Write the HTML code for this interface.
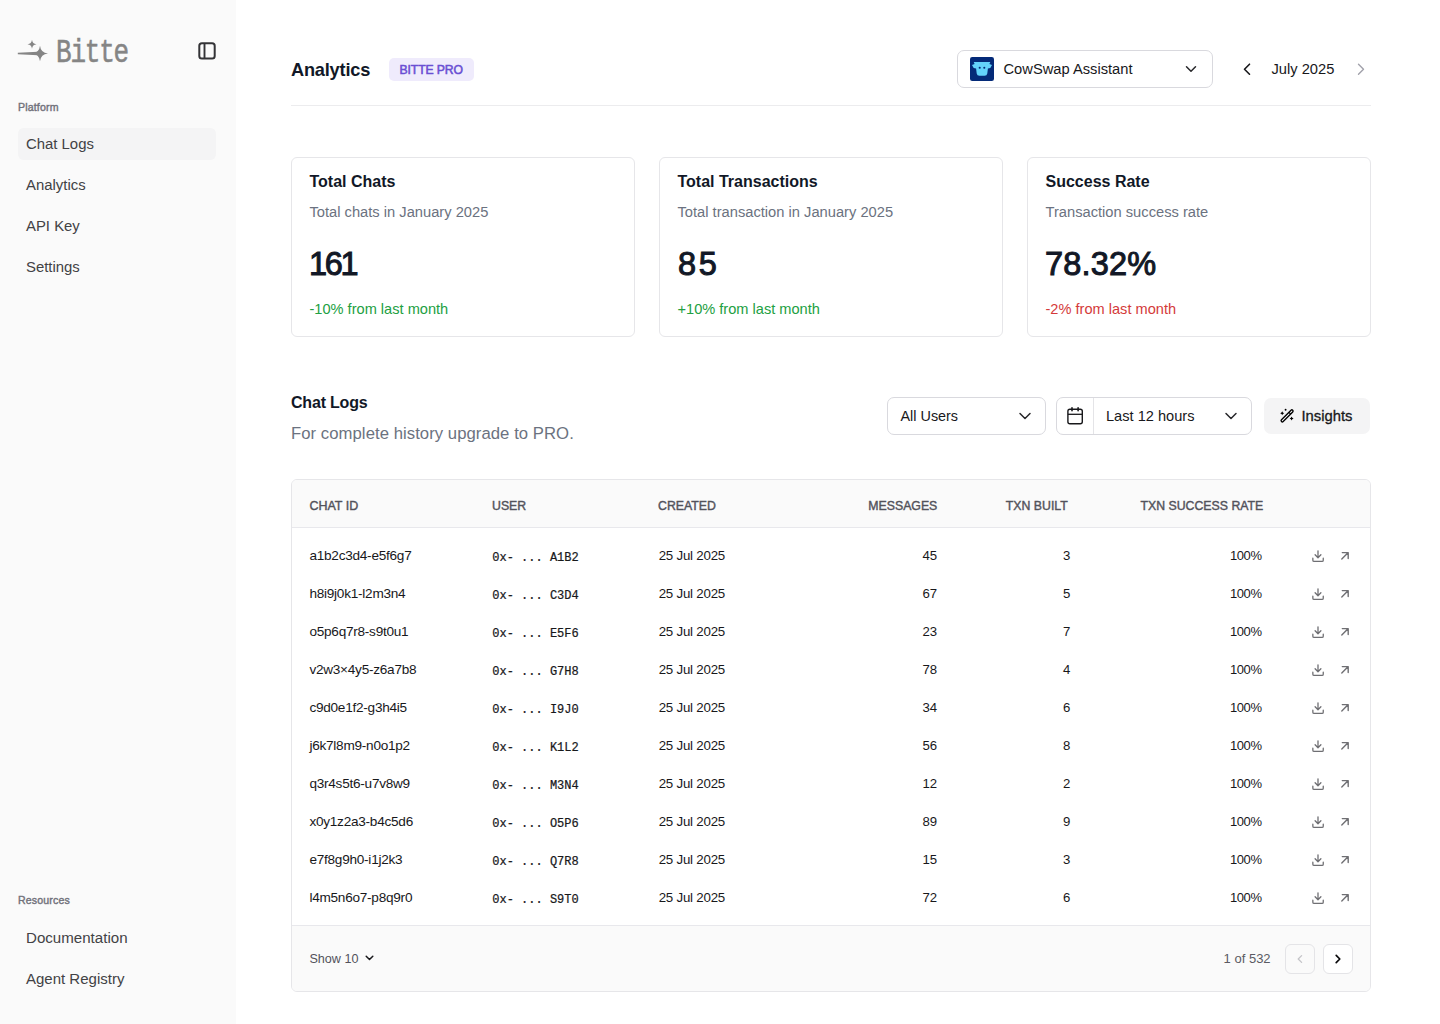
<!DOCTYPE html>
<html><head><meta charset="utf-8"><title>Analytics</title>
<style>
html,body{margin:0;padding:0;background:#fff;}
body{width:1440px;height:1024px;position:relative;overflow:hidden;font-family:'Liberation Sans', sans-serif;}
.t{position:absolute;white-space:nowrap;line-height:1;}
svg{display:block;}
</style></head><body>
<div style="position:absolute;left:0px;top:0px;width:236px;height:1024px;box-sizing:border-box;background:#fafafa;"></div>
<svg style="position:absolute;left:0px;top:0px;" width="60" height="70" viewBox="0 0 60 70" fill="none"><path d="M17.8 52.7 L38 51.7 L38 55.3 L17.8 54.3 Z" fill="#858585"/><path d="M40 45.7 Q40.75 52.75 48.0 53.5 Q40.75 54.25 40 61.3 Q39.25 54.25 32.0 53.5 Q39.25 52.75 40 45.7Z" fill="#858585"/><path d="M32 39.8 Q32.45 43.849999999999994 36.5 44.3 Q32.45 44.75 32 48.8 Q31.55 44.75 27.5 44.3 Q31.55 43.849999999999994 32 39.8Z" fill="#858585"/></svg>
<div class="t" style="left:55.5px;top:38.2px;font-family:'Liberation Mono', monospace;font-weight:400;font-size:32.5px;line-height:31px;color:#858585;letter-spacing:-1.5px;-webkit-text-stroke:0.55px #858585;transform:scaleX(0.8);transform-origin:0 0;">Bitte</div>
<svg style="position:absolute;left:196px;top:40px;" width="22" height="22" viewBox="0 0 22 22" fill="none"><rect x="3.3" y="3.2" width="15.4" height="15.4" rx="2.6" stroke="#333336" stroke-width="2"/><path d="M8.5 3.2v15.4" stroke="#333336" stroke-width="1.9"/></svg>
<div class="t" style="left:18.00px;top:101.92px;font-size:10.6px;font-weight:400;color:#71717a;font-family:'Liberation Sans', sans-serif;letter-spacing:0.15px;-webkit-text-stroke:0.4px #71717a;">Platform</div>
<div style="position:absolute;left:18px;top:128px;width:198px;height:32px;box-sizing:border-box;background:#f4f4f5;border-radius:6px;box-shadow:0 0 1px rgba(0,0,0,0.02);"></div>
<div class="t" style="left:26.00px;top:137.18px;font-size:14.9px;font-weight:400;color:#424245;font-family:'Liberation Sans', sans-serif;">Chat Logs</div>
<div class="t" style="left:26.00px;top:178.18px;font-size:14.9px;font-weight:400;color:#424245;font-family:'Liberation Sans', sans-serif;">Analytics</div>
<div class="t" style="left:26.00px;top:219.18px;font-size:14.9px;font-weight:400;color:#424245;font-family:'Liberation Sans', sans-serif;">API Key</div>
<div class="t" style="left:26.00px;top:260.18px;font-size:14.9px;font-weight:400;color:#424245;font-family:'Liberation Sans', sans-serif;">Settings</div>
<div class="t" style="left:18.00px;top:895.02px;font-size:10.6px;font-weight:400;color:#71717a;font-family:'Liberation Sans', sans-serif;letter-spacing:0.15px;-webkit-text-stroke:0.4px #71717a;">Resources</div>
<div class="t" style="left:26.00px;top:930.21px;font-size:15.1px;font-weight:400;color:#424245;font-family:'Liberation Sans', sans-serif;">Documentation</div>
<div class="t" style="left:26.00px;top:970.90px;font-size:15.0px;font-weight:400;color:#424245;font-family:'Liberation Sans', sans-serif;">Agent Registry</div>
<div class="t" style="left:291.00px;top:61.49px;font-size:18.2px;font-weight:700;color:#111827;font-family:'Liberation Sans', sans-serif;letter-spacing:-0.2px;">Analytics</div>
<div style="position:absolute;left:389px;top:58px;width:85px;height:23px;box-sizing:border-box;background:#efebfc;border-radius:5px;"></div>
<div class="t" style="left:399.50px;top:64.37px;font-size:12.2px;font-weight:400;color:#6a4fd3;font-family:'Liberation Sans', sans-serif;letter-spacing:-0.1px;-webkit-text-stroke:0.55px #6a4fd3;">BITTE PRO</div>
<div style="position:absolute;left:291px;top:105px;width:1080px;height:1px;box-sizing:border-box;background:#ececee;"></div>
<div style="position:absolute;left:957px;top:50px;width:256px;height:38px;box-sizing:border-box;border:1px solid #d9d9de;border-radius:7px;background:#fff;"></div>
<svg style="position:absolute;left:970px;top:57px;" width="24" height="24" viewBox="0 0 24 24" fill="none"><rect x="0" y="0" width="24" height="24" rx="2.2" fill="#042a78"/><path d="M3.7 5.1 L20.3 5.1 L19.4 7.1 L22 8.1 L20.3 11.1 L17.9 11.4 L17.3 16.4 Q16.9 18.8 14.6 18.8 L9.4 18.8 Q7.1 18.8 6.7 16.4 L6.1 11.4 L3.7 11.1 L2 8.1 L4.6 7.1 Z" fill="#63d3fb"/><circle cx="9.7" cy="10.8" r="1.05" fill="#042a78"/><circle cx="14.3" cy="10.8" r="1.05" fill="#042a78"/></svg>
<div class="t" style="left:1003.50px;top:62.35px;font-size:14.7px;font-weight:400;color:#18181b;font-family:'Liberation Sans', sans-serif;">CowSwap Assistant</div>
<svg style="position:absolute;left:1184px;top:62px;" width="14" height="14" viewBox="0 0 14 14" fill="none"><path d="M2.5 4.8 L7 9.3 L11.5 4.8" stroke="#27272a" stroke-width="1.5" stroke-linecap="round" stroke-linejoin="round"/></svg>
<svg style="position:absolute;left:1240px;top:62px;" width="14" height="14" viewBox="0 0 14 14" fill="none"><path d="M9.5 2.2 L4.5 7.2 L9.5 12.2" stroke="#18181b" stroke-width="1.6" stroke-linecap="round" stroke-linejoin="round"/></svg>
<div class="t" style="left:1271.50px;top:61.95px;font-size:14.7px;font-weight:400;color:#18181b;font-family:'Liberation Sans', sans-serif;">July 2025</div>
<svg style="position:absolute;left:1354px;top:62px;" width="14" height="14" viewBox="0 0 14 14" fill="none"><path d="M4.5 2.2 L9.5 7.2 L4.5 12.2" stroke="#a1a1aa" stroke-width="1.4" stroke-linecap="round" stroke-linejoin="round"/></svg>
<div style="position:absolute;left:291px;top:157px;width:344px;height:180px;box-sizing:border-box;border:1px solid #e6e6e9;border-radius:6px;background:#fff;"></div>
<div class="t" style="left:309.50px;top:174.35px;font-size:16px;font-weight:700;color:#111827;font-family:'Liberation Sans', sans-serif;">Total Chats</div>
<div class="t" style="left:309.50px;top:205.15px;font-size:14.7px;font-weight:400;color:#6b7280;font-family:'Liberation Sans', sans-serif;">Total chats in January 2025</div>
<div class="t" style="left:309.00px;top:248.28px;font-size:32.5px;font-weight:400;color:#121826;font-family:'Liberation Sans', sans-serif;letter-spacing:-2.3px;-webkit-text-stroke:1.0px #121826;">161</div>
<div class="t" style="left:309.50px;top:301.94px;font-size:14.6px;font-weight:400;color:#22a042;font-family:'Liberation Sans', sans-serif;">-10% from last month</div>
<div style="position:absolute;left:659px;top:157px;width:344px;height:180px;box-sizing:border-box;border:1px solid #e6e6e9;border-radius:6px;background:#fff;"></div>
<div class="t" style="left:677.50px;top:174.35px;font-size:16px;font-weight:700;color:#111827;font-family:'Liberation Sans', sans-serif;">Total Transactions</div>
<div class="t" style="left:677.50px;top:205.15px;font-size:14.7px;font-weight:400;color:#6b7280;font-family:'Liberation Sans', sans-serif;">Total transaction in January 2025</div>
<div class="t" style="left:678.00px;top:248.28px;font-size:32.5px;font-weight:400;color:#121826;font-family:'Liberation Sans', sans-serif;letter-spacing:2.6px;-webkit-text-stroke:1.0px #121826;">85</div>
<div class="t" style="left:677.50px;top:301.94px;font-size:14.6px;font-weight:400;color:#22a042;font-family:'Liberation Sans', sans-serif;">+10% from last month</div>
<div style="position:absolute;left:1027px;top:157px;width:344px;height:180px;box-sizing:border-box;border:1px solid #e6e6e9;border-radius:6px;background:#fff;"></div>
<div class="t" style="left:1045.50px;top:174.35px;font-size:16px;font-weight:700;color:#111827;font-family:'Liberation Sans', sans-serif;">Success Rate</div>
<div class="t" style="left:1045.50px;top:205.15px;font-size:14.7px;font-weight:400;color:#6b7280;font-family:'Liberation Sans', sans-serif;">Transaction success rate</div>
<div class="t" style="left:1045.00px;top:248.28px;font-size:32.5px;font-weight:400;color:#121826;font-family:'Liberation Sans', sans-serif;letter-spacing:0.2px;-webkit-text-stroke:1.0px #121826;">78.32%</div>
<div class="t" style="left:1045.50px;top:301.94px;font-size:14.6px;font-weight:400;color:#d43a3a;font-family:'Liberation Sans', sans-serif;">-2% from last month</div>
<div class="t" style="left:291.00px;top:395.05px;font-size:16px;font-weight:700;color:#111827;font-family:'Liberation Sans', sans-serif;letter-spacing:-0.2px;">Chat Logs</div>
<div class="t" style="left:291.00px;top:426.36px;font-size:16.7px;font-weight:400;color:#6b7280;font-family:'Liberation Sans', sans-serif;letter-spacing:0.05px;">For complete history upgrade to PRO.</div>
<div style="position:absolute;left:887px;top:397px;width:159px;height:38px;box-sizing:border-box;border:1px solid #d9d9de;border-radius:7px;background:#fff;"></div>
<div class="t" style="left:900.50px;top:409.21px;font-size:14.4px;font-weight:400;color:#18181b;font-family:'Liberation Sans', sans-serif;">All Users</div>
<svg style="position:absolute;left:1018px;top:409px;" width="14" height="14" viewBox="0 0 14 14" fill="none"><path d="M2 4.5 L7 9.5 L12 4.5" stroke="#27272a" stroke-width="1.5" stroke-linecap="round" stroke-linejoin="round"/></svg>
<div style="position:absolute;left:1056px;top:397px;width:196px;height:38px;box-sizing:border-box;border:1px solid #d9d9de;border-radius:7px;background:#fff;"></div>
<div style="position:absolute;left:1093px;top:398px;width:1px;height:36px;box-sizing:border-box;background:#e4e4e7;"></div>
<svg style="position:absolute;left:1066px;top:406px;" width="18" height="19" viewBox="0 0 18 19" fill="none"><rect x="1.9" y="3.2" width="14.4" height="14.6" rx="2" stroke="#18181b" stroke-width="1.4"/><path d="M1.9 8.3 H16.3" stroke="#18181b" stroke-width="1.3"/><path d="M6 1.8 v3 M12.1 1.8 v3" stroke="#18181b" stroke-width="1.6" stroke-linecap="round"/></svg>
<div class="t" style="left:1106.00px;top:409.04px;font-size:14.6px;font-weight:400;color:#18181b;font-family:'Liberation Sans', sans-serif;">Last 12 hours</div>
<svg style="position:absolute;left:1224px;top:409px;" width="14" height="14" viewBox="0 0 14 14" fill="none"><path d="M2 4.5 L7 9.5 L12 4.5" stroke="#27272a" stroke-width="1.5" stroke-linecap="round" stroke-linejoin="round"/></svg>
<div style="position:absolute;left:1264px;top:398px;width:106px;height:36px;box-sizing:border-box;background:#f4f4f5;border-radius:7px;"></div>
<svg style="position:absolute;left:1270px;top:400px;" width="32" height="32" viewBox="0 0 32 32" fill="none"><g transform="rotate(-45 17.1 15.875)"><rect x="9.150000000000002" y="14.675" width="15.9" height="2.4" rx="1.2" stroke="#000" stroke-width="1.35"/><path d="M20.900000000000002 14.675 V17.075" stroke="#000" stroke-width="1.3"/></g><path d="M12.2 11.3 Q12.549999999999999 12.950000000000001 14.2 13.3 Q12.549999999999999 13.65 12.2 15.3 Q11.85 13.65 10.2 13.3 Q11.85 12.950000000000001 12.2 11.3Z" fill="#000"/><path d="M21.6 16.6 Q21.950000000000003 18.25 23.6 18.6 Q21.950000000000003 18.950000000000003 21.6 20.6 Q21.25 18.950000000000003 19.6 18.6 Q21.25 18.25 21.6 16.6Z" fill="#000"/><circle cx="15.6" cy="9.8" r="0.95" fill="#000"/></svg>
<div class="t" style="left:1301.50px;top:409.17px;font-size:14.8px;font-weight:400;color:#18181b;font-family:'Liberation Sans', sans-serif;-webkit-text-stroke:0.3px #18181b;">Insights</div>
<div style="position:absolute;left:291px;top:479px;width:1080px;height:513px;box-sizing:border-box;border:1px solid #e6e6e9;border-radius:6px;background:#fff;overflow:hidden;"></div>
<div style="position:absolute;left:292px;top:480px;width:1078px;height:47px;box-sizing:border-box;background:#fafafa;border-radius:5px 5px 0 0;"></div>
<div style="position:absolute;left:292px;top:527px;width:1078px;height:1px;box-sizing:border-box;background:#e8e8ec;"></div>
<div style="position:absolute;left:292px;top:925px;width:1078px;height:1px;box-sizing:border-box;background:#e8e8ec;"></div>
<div style="position:absolute;left:292px;top:926px;width:1078px;height:65px;box-sizing:border-box;background:#fafafa;border-radius:0 0 5px 5px;"></div>
<div class="t" style="left:309.40px;top:500.02px;font-size:12.5px;font-weight:400;color:#52525b;font-family:'Liberation Sans', sans-serif;-webkit-text-stroke:0.4px #52525b;">CHAT ID</div>
<div class="t" style="left:492.00px;top:500.19px;font-size:12.3px;font-weight:400;color:#52525b;font-family:'Liberation Sans', sans-serif;-webkit-text-stroke:0.4px #52525b;">USER</div>
<div class="t" style="left:658.00px;top:500.19px;font-size:12.3px;font-weight:400;color:#52525b;font-family:'Liberation Sans', sans-serif;-webkit-text-stroke:0.4px #52525b;">CREATED</div>
<div class="t" style="left:868.30px;top:500.19px;font-size:12.3px;font-weight:400;color:#52525b;font-family:'Liberation Sans', sans-serif;-webkit-text-stroke:0.4px #52525b;">MESSAGES</div>
<div class="t" style="left:1005.80px;top:500.19px;font-size:12.3px;font-weight:400;color:#52525b;font-family:'Liberation Sans', sans-serif;-webkit-text-stroke:0.4px #52525b;">TXN BUILT</div>
<div class="t" style="left:1140.50px;top:500.19px;font-size:12.3px;font-weight:400;color:#52525b;font-family:'Liberation Sans', sans-serif;-webkit-text-stroke:0.4px #52525b;">TXN SUCCESS RATE</div>
<div class="t" style="left:309.40px;top:549.08px;font-size:13.6px;font-weight:400;color:#18181b;font-family:'Liberation Sans', sans-serif;letter-spacing:-0.25px;">a1b2c3d4-e5f6g7</div>
<div class="t" style="left:492.30px;top:551.81px;font-size:12px;font-weight:400;color:#18181b;font-family:'Liberation Mono', monospace;-webkit-text-stroke:0.22px #18181b;">0x- ... A1B2</div>
<div class="t" style="left:658.70px;top:549.34px;font-size:13.3px;font-weight:400;color:#18181b;font-family:'Liberation Sans', sans-serif;letter-spacing:-0.22px;">25 Jul 2025</div>
<div class="t" style="right:503.30px;top:549.42px;font-size:13.2px;font-weight:400;color:#18181b;font-family:'Liberation Sans', sans-serif;letter-spacing:-0.2px;margin-right:-0.2px;">45</div>
<div class="t" style="right:369.70px;top:549.42px;font-size:13.2px;font-weight:400;color:#18181b;font-family:'Liberation Sans', sans-serif;">3</div>
<div class="t" style="right:178.50px;top:548.99px;font-size:13.0px;font-weight:400;color:#18181b;font-family:'Liberation Sans', sans-serif;letter-spacing:-0.45px;">100%</div>
<svg style="position:absolute;left:1310px;top:548.8px;" width="16" height="15" viewBox="0 0 16 15" fill="none"><path d="M8 1.8 V8.6 M5.1 5.8 L8 8.7 L10.9 5.8" stroke="#6f6f73" stroke-width="1.3" stroke-linecap="round" stroke-linejoin="round"/><path d="M2.85 9.2 V11.2 A1.25 1.25 0 0 0 4.1 12.45 H12 A1.25 1.25 0 0 0 13.25 11.2 V9.2" stroke="#6f6f73" stroke-width="1.3" stroke-linecap="round" stroke-linejoin="round"/></svg>
<svg style="position:absolute;left:1338px;top:548.8px;" width="14" height="14" viewBox="0 0 14 14" fill="none"><path d="M3.8 9.9 L10 3.7 M4.3 3.6 H10.2 V9.6" stroke="#6f6f73" stroke-width="1.4" stroke-linecap="round" stroke-linejoin="round"/></svg>
<div class="t" style="left:309.40px;top:587.08px;font-size:13.6px;font-weight:400;color:#18181b;font-family:'Liberation Sans', sans-serif;letter-spacing:-0.25px;">h8i9j0k1-l2m3n4</div>
<div class="t" style="left:492.30px;top:589.81px;font-size:12px;font-weight:400;color:#18181b;font-family:'Liberation Mono', monospace;-webkit-text-stroke:0.22px #18181b;">0x- ... C3D4</div>
<div class="t" style="left:658.70px;top:587.34px;font-size:13.3px;font-weight:400;color:#18181b;font-family:'Liberation Sans', sans-serif;letter-spacing:-0.22px;">25 Jul 2025</div>
<div class="t" style="right:503.30px;top:587.42px;font-size:13.2px;font-weight:400;color:#18181b;font-family:'Liberation Sans', sans-serif;letter-spacing:-0.2px;margin-right:-0.2px;">67</div>
<div class="t" style="right:369.70px;top:587.42px;font-size:13.2px;font-weight:400;color:#18181b;font-family:'Liberation Sans', sans-serif;">5</div>
<div class="t" style="right:178.50px;top:586.99px;font-size:13.0px;font-weight:400;color:#18181b;font-family:'Liberation Sans', sans-serif;letter-spacing:-0.45px;">100%</div>
<svg style="position:absolute;left:1310px;top:586.8px;" width="16" height="15" viewBox="0 0 16 15" fill="none"><path d="M8 1.8 V8.6 M5.1 5.8 L8 8.7 L10.9 5.8" stroke="#6f6f73" stroke-width="1.3" stroke-linecap="round" stroke-linejoin="round"/><path d="M2.85 9.2 V11.2 A1.25 1.25 0 0 0 4.1 12.45 H12 A1.25 1.25 0 0 0 13.25 11.2 V9.2" stroke="#6f6f73" stroke-width="1.3" stroke-linecap="round" stroke-linejoin="round"/></svg>
<svg style="position:absolute;left:1338px;top:586.8px;" width="14" height="14" viewBox="0 0 14 14" fill="none"><path d="M3.8 9.9 L10 3.7 M4.3 3.6 H10.2 V9.6" stroke="#6f6f73" stroke-width="1.4" stroke-linecap="round" stroke-linejoin="round"/></svg>
<div class="t" style="left:309.40px;top:625.08px;font-size:13.6px;font-weight:400;color:#18181b;font-family:'Liberation Sans', sans-serif;letter-spacing:-0.25px;">o5p6q7r8-s9t0u1</div>
<div class="t" style="left:492.30px;top:627.81px;font-size:12px;font-weight:400;color:#18181b;font-family:'Liberation Mono', monospace;-webkit-text-stroke:0.22px #18181b;">0x- ... E5F6</div>
<div class="t" style="left:658.70px;top:625.34px;font-size:13.3px;font-weight:400;color:#18181b;font-family:'Liberation Sans', sans-serif;letter-spacing:-0.22px;">25 Jul 2025</div>
<div class="t" style="right:503.30px;top:625.42px;font-size:13.2px;font-weight:400;color:#18181b;font-family:'Liberation Sans', sans-serif;letter-spacing:-0.2px;margin-right:-0.2px;">23</div>
<div class="t" style="right:369.70px;top:625.42px;font-size:13.2px;font-weight:400;color:#18181b;font-family:'Liberation Sans', sans-serif;">7</div>
<div class="t" style="right:178.50px;top:624.99px;font-size:13.0px;font-weight:400;color:#18181b;font-family:'Liberation Sans', sans-serif;letter-spacing:-0.45px;">100%</div>
<svg style="position:absolute;left:1310px;top:624.8px;" width="16" height="15" viewBox="0 0 16 15" fill="none"><path d="M8 1.8 V8.6 M5.1 5.8 L8 8.7 L10.9 5.8" stroke="#6f6f73" stroke-width="1.3" stroke-linecap="round" stroke-linejoin="round"/><path d="M2.85 9.2 V11.2 A1.25 1.25 0 0 0 4.1 12.45 H12 A1.25 1.25 0 0 0 13.25 11.2 V9.2" stroke="#6f6f73" stroke-width="1.3" stroke-linecap="round" stroke-linejoin="round"/></svg>
<svg style="position:absolute;left:1338px;top:624.8px;" width="14" height="14" viewBox="0 0 14 14" fill="none"><path d="M3.8 9.9 L10 3.7 M4.3 3.6 H10.2 V9.6" stroke="#6f6f73" stroke-width="1.4" stroke-linecap="round" stroke-linejoin="round"/></svg>
<div class="t" style="left:309.40px;top:663.08px;font-size:13.6px;font-weight:400;color:#18181b;font-family:'Liberation Sans', sans-serif;letter-spacing:-0.25px;">v2w3&times;4y5-z6a7b8</div>
<div class="t" style="left:492.30px;top:665.81px;font-size:12px;font-weight:400;color:#18181b;font-family:'Liberation Mono', monospace;-webkit-text-stroke:0.22px #18181b;">0x- ... G7H8</div>
<div class="t" style="left:658.70px;top:663.34px;font-size:13.3px;font-weight:400;color:#18181b;font-family:'Liberation Sans', sans-serif;letter-spacing:-0.22px;">25 Jul 2025</div>
<div class="t" style="right:503.30px;top:663.42px;font-size:13.2px;font-weight:400;color:#18181b;font-family:'Liberation Sans', sans-serif;letter-spacing:-0.2px;margin-right:-0.2px;">78</div>
<div class="t" style="right:369.70px;top:663.42px;font-size:13.2px;font-weight:400;color:#18181b;font-family:'Liberation Sans', sans-serif;">4</div>
<div class="t" style="right:178.50px;top:662.99px;font-size:13.0px;font-weight:400;color:#18181b;font-family:'Liberation Sans', sans-serif;letter-spacing:-0.45px;">100%</div>
<svg style="position:absolute;left:1310px;top:662.8px;" width="16" height="15" viewBox="0 0 16 15" fill="none"><path d="M8 1.8 V8.6 M5.1 5.8 L8 8.7 L10.9 5.8" stroke="#6f6f73" stroke-width="1.3" stroke-linecap="round" stroke-linejoin="round"/><path d="M2.85 9.2 V11.2 A1.25 1.25 0 0 0 4.1 12.45 H12 A1.25 1.25 0 0 0 13.25 11.2 V9.2" stroke="#6f6f73" stroke-width="1.3" stroke-linecap="round" stroke-linejoin="round"/></svg>
<svg style="position:absolute;left:1338px;top:662.8px;" width="14" height="14" viewBox="0 0 14 14" fill="none"><path d="M3.8 9.9 L10 3.7 M4.3 3.6 H10.2 V9.6" stroke="#6f6f73" stroke-width="1.4" stroke-linecap="round" stroke-linejoin="round"/></svg>
<div class="t" style="left:309.40px;top:701.08px;font-size:13.6px;font-weight:400;color:#18181b;font-family:'Liberation Sans', sans-serif;letter-spacing:-0.25px;">c9d0e1f2-g3h4i5</div>
<div class="t" style="left:492.30px;top:703.81px;font-size:12px;font-weight:400;color:#18181b;font-family:'Liberation Mono', monospace;-webkit-text-stroke:0.22px #18181b;">0x- ... I9J0</div>
<div class="t" style="left:658.70px;top:701.34px;font-size:13.3px;font-weight:400;color:#18181b;font-family:'Liberation Sans', sans-serif;letter-spacing:-0.22px;">25 Jul 2025</div>
<div class="t" style="right:503.30px;top:701.42px;font-size:13.2px;font-weight:400;color:#18181b;font-family:'Liberation Sans', sans-serif;letter-spacing:-0.2px;margin-right:-0.2px;">34</div>
<div class="t" style="right:369.70px;top:701.42px;font-size:13.2px;font-weight:400;color:#18181b;font-family:'Liberation Sans', sans-serif;">6</div>
<div class="t" style="right:178.50px;top:700.99px;font-size:13.0px;font-weight:400;color:#18181b;font-family:'Liberation Sans', sans-serif;letter-spacing:-0.45px;">100%</div>
<svg style="position:absolute;left:1310px;top:700.8px;" width="16" height="15" viewBox="0 0 16 15" fill="none"><path d="M8 1.8 V8.6 M5.1 5.8 L8 8.7 L10.9 5.8" stroke="#6f6f73" stroke-width="1.3" stroke-linecap="round" stroke-linejoin="round"/><path d="M2.85 9.2 V11.2 A1.25 1.25 0 0 0 4.1 12.45 H12 A1.25 1.25 0 0 0 13.25 11.2 V9.2" stroke="#6f6f73" stroke-width="1.3" stroke-linecap="round" stroke-linejoin="round"/></svg>
<svg style="position:absolute;left:1338px;top:700.8px;" width="14" height="14" viewBox="0 0 14 14" fill="none"><path d="M3.8 9.9 L10 3.7 M4.3 3.6 H10.2 V9.6" stroke="#6f6f73" stroke-width="1.4" stroke-linecap="round" stroke-linejoin="round"/></svg>
<div class="t" style="left:309.40px;top:739.08px;font-size:13.6px;font-weight:400;color:#18181b;font-family:'Liberation Sans', sans-serif;letter-spacing:-0.25px;">j6k7l8m9-n0o1p2</div>
<div class="t" style="left:492.30px;top:741.81px;font-size:12px;font-weight:400;color:#18181b;font-family:'Liberation Mono', monospace;-webkit-text-stroke:0.22px #18181b;">0x- ... K1L2</div>
<div class="t" style="left:658.70px;top:739.34px;font-size:13.3px;font-weight:400;color:#18181b;font-family:'Liberation Sans', sans-serif;letter-spacing:-0.22px;">25 Jul 2025</div>
<div class="t" style="right:503.30px;top:739.42px;font-size:13.2px;font-weight:400;color:#18181b;font-family:'Liberation Sans', sans-serif;letter-spacing:-0.2px;margin-right:-0.2px;">56</div>
<div class="t" style="right:369.70px;top:739.42px;font-size:13.2px;font-weight:400;color:#18181b;font-family:'Liberation Sans', sans-serif;">8</div>
<div class="t" style="right:178.50px;top:738.99px;font-size:13.0px;font-weight:400;color:#18181b;font-family:'Liberation Sans', sans-serif;letter-spacing:-0.45px;">100%</div>
<svg style="position:absolute;left:1310px;top:738.8px;" width="16" height="15" viewBox="0 0 16 15" fill="none"><path d="M8 1.8 V8.6 M5.1 5.8 L8 8.7 L10.9 5.8" stroke="#6f6f73" stroke-width="1.3" stroke-linecap="round" stroke-linejoin="round"/><path d="M2.85 9.2 V11.2 A1.25 1.25 0 0 0 4.1 12.45 H12 A1.25 1.25 0 0 0 13.25 11.2 V9.2" stroke="#6f6f73" stroke-width="1.3" stroke-linecap="round" stroke-linejoin="round"/></svg>
<svg style="position:absolute;left:1338px;top:738.8px;" width="14" height="14" viewBox="0 0 14 14" fill="none"><path d="M3.8 9.9 L10 3.7 M4.3 3.6 H10.2 V9.6" stroke="#6f6f73" stroke-width="1.4" stroke-linecap="round" stroke-linejoin="round"/></svg>
<div class="t" style="left:309.40px;top:777.08px;font-size:13.6px;font-weight:400;color:#18181b;font-family:'Liberation Sans', sans-serif;letter-spacing:-0.25px;">q3r4s5t6-u7v8w9</div>
<div class="t" style="left:492.30px;top:779.81px;font-size:12px;font-weight:400;color:#18181b;font-family:'Liberation Mono', monospace;-webkit-text-stroke:0.22px #18181b;">0x- ... M3N4</div>
<div class="t" style="left:658.70px;top:777.34px;font-size:13.3px;font-weight:400;color:#18181b;font-family:'Liberation Sans', sans-serif;letter-spacing:-0.22px;">25 Jul 2025</div>
<div class="t" style="right:503.30px;top:777.42px;font-size:13.2px;font-weight:400;color:#18181b;font-family:'Liberation Sans', sans-serif;letter-spacing:-0.2px;margin-right:-0.2px;">12</div>
<div class="t" style="right:369.70px;top:777.42px;font-size:13.2px;font-weight:400;color:#18181b;font-family:'Liberation Sans', sans-serif;">2</div>
<div class="t" style="right:178.50px;top:776.99px;font-size:13.0px;font-weight:400;color:#18181b;font-family:'Liberation Sans', sans-serif;letter-spacing:-0.45px;">100%</div>
<svg style="position:absolute;left:1310px;top:776.8px;" width="16" height="15" viewBox="0 0 16 15" fill="none"><path d="M8 1.8 V8.6 M5.1 5.8 L8 8.7 L10.9 5.8" stroke="#6f6f73" stroke-width="1.3" stroke-linecap="round" stroke-linejoin="round"/><path d="M2.85 9.2 V11.2 A1.25 1.25 0 0 0 4.1 12.45 H12 A1.25 1.25 0 0 0 13.25 11.2 V9.2" stroke="#6f6f73" stroke-width="1.3" stroke-linecap="round" stroke-linejoin="round"/></svg>
<svg style="position:absolute;left:1338px;top:776.8px;" width="14" height="14" viewBox="0 0 14 14" fill="none"><path d="M3.8 9.9 L10 3.7 M4.3 3.6 H10.2 V9.6" stroke="#6f6f73" stroke-width="1.4" stroke-linecap="round" stroke-linejoin="round"/></svg>
<div class="t" style="left:309.40px;top:815.08px;font-size:13.6px;font-weight:400;color:#18181b;font-family:'Liberation Sans', sans-serif;letter-spacing:-0.25px;">x0y1z2a3-b4c5d6</div>
<div class="t" style="left:492.30px;top:817.81px;font-size:12px;font-weight:400;color:#18181b;font-family:'Liberation Mono', monospace;-webkit-text-stroke:0.22px #18181b;">0x- ... O5P6</div>
<div class="t" style="left:658.70px;top:815.34px;font-size:13.3px;font-weight:400;color:#18181b;font-family:'Liberation Sans', sans-serif;letter-spacing:-0.22px;">25 Jul 2025</div>
<div class="t" style="right:503.30px;top:815.42px;font-size:13.2px;font-weight:400;color:#18181b;font-family:'Liberation Sans', sans-serif;letter-spacing:-0.2px;margin-right:-0.2px;">89</div>
<div class="t" style="right:369.70px;top:815.42px;font-size:13.2px;font-weight:400;color:#18181b;font-family:'Liberation Sans', sans-serif;">9</div>
<div class="t" style="right:178.50px;top:814.99px;font-size:13.0px;font-weight:400;color:#18181b;font-family:'Liberation Sans', sans-serif;letter-spacing:-0.45px;">100%</div>
<svg style="position:absolute;left:1310px;top:814.8px;" width="16" height="15" viewBox="0 0 16 15" fill="none"><path d="M8 1.8 V8.6 M5.1 5.8 L8 8.7 L10.9 5.8" stroke="#6f6f73" stroke-width="1.3" stroke-linecap="round" stroke-linejoin="round"/><path d="M2.85 9.2 V11.2 A1.25 1.25 0 0 0 4.1 12.45 H12 A1.25 1.25 0 0 0 13.25 11.2 V9.2" stroke="#6f6f73" stroke-width="1.3" stroke-linecap="round" stroke-linejoin="round"/></svg>
<svg style="position:absolute;left:1338px;top:814.8px;" width="14" height="14" viewBox="0 0 14 14" fill="none"><path d="M3.8 9.9 L10 3.7 M4.3 3.6 H10.2 V9.6" stroke="#6f6f73" stroke-width="1.4" stroke-linecap="round" stroke-linejoin="round"/></svg>
<div class="t" style="left:309.40px;top:853.08px;font-size:13.6px;font-weight:400;color:#18181b;font-family:'Liberation Sans', sans-serif;letter-spacing:-0.25px;">e7f8g9h0-i1j2k3</div>
<div class="t" style="left:492.30px;top:855.81px;font-size:12px;font-weight:400;color:#18181b;font-family:'Liberation Mono', monospace;-webkit-text-stroke:0.22px #18181b;">0x- ... Q7R8</div>
<div class="t" style="left:658.70px;top:853.34px;font-size:13.3px;font-weight:400;color:#18181b;font-family:'Liberation Sans', sans-serif;letter-spacing:-0.22px;">25 Jul 2025</div>
<div class="t" style="right:503.30px;top:853.42px;font-size:13.2px;font-weight:400;color:#18181b;font-family:'Liberation Sans', sans-serif;letter-spacing:-0.2px;margin-right:-0.2px;">15</div>
<div class="t" style="right:369.70px;top:853.42px;font-size:13.2px;font-weight:400;color:#18181b;font-family:'Liberation Sans', sans-serif;">3</div>
<div class="t" style="right:178.50px;top:852.99px;font-size:13.0px;font-weight:400;color:#18181b;font-family:'Liberation Sans', sans-serif;letter-spacing:-0.45px;">100%</div>
<svg style="position:absolute;left:1310px;top:852.8px;" width="16" height="15" viewBox="0 0 16 15" fill="none"><path d="M8 1.8 V8.6 M5.1 5.8 L8 8.7 L10.9 5.8" stroke="#6f6f73" stroke-width="1.3" stroke-linecap="round" stroke-linejoin="round"/><path d="M2.85 9.2 V11.2 A1.25 1.25 0 0 0 4.1 12.45 H12 A1.25 1.25 0 0 0 13.25 11.2 V9.2" stroke="#6f6f73" stroke-width="1.3" stroke-linecap="round" stroke-linejoin="round"/></svg>
<svg style="position:absolute;left:1338px;top:852.8px;" width="14" height="14" viewBox="0 0 14 14" fill="none"><path d="M3.8 9.9 L10 3.7 M4.3 3.6 H10.2 V9.6" stroke="#6f6f73" stroke-width="1.4" stroke-linecap="round" stroke-linejoin="round"/></svg>
<div class="t" style="left:309.40px;top:891.08px;font-size:13.6px;font-weight:400;color:#18181b;font-family:'Liberation Sans', sans-serif;letter-spacing:-0.25px;">l4m5n6o7-p8q9r0</div>
<div class="t" style="left:492.30px;top:893.81px;font-size:12px;font-weight:400;color:#18181b;font-family:'Liberation Mono', monospace;-webkit-text-stroke:0.22px #18181b;">0x- ... S9T0</div>
<div class="t" style="left:658.70px;top:891.34px;font-size:13.3px;font-weight:400;color:#18181b;font-family:'Liberation Sans', sans-serif;letter-spacing:-0.22px;">25 Jul 2025</div>
<div class="t" style="right:503.30px;top:891.42px;font-size:13.2px;font-weight:400;color:#18181b;font-family:'Liberation Sans', sans-serif;letter-spacing:-0.2px;margin-right:-0.2px;">72</div>
<div class="t" style="right:369.70px;top:891.42px;font-size:13.2px;font-weight:400;color:#18181b;font-family:'Liberation Sans', sans-serif;">6</div>
<div class="t" style="right:178.50px;top:890.99px;font-size:13.0px;font-weight:400;color:#18181b;font-family:'Liberation Sans', sans-serif;letter-spacing:-0.45px;">100%</div>
<svg style="position:absolute;left:1310px;top:890.8px;" width="16" height="15" viewBox="0 0 16 15" fill="none"><path d="M8 1.8 V8.6 M5.1 5.8 L8 8.7 L10.9 5.8" stroke="#6f6f73" stroke-width="1.3" stroke-linecap="round" stroke-linejoin="round"/><path d="M2.85 9.2 V11.2 A1.25 1.25 0 0 0 4.1 12.45 H12 A1.25 1.25 0 0 0 13.25 11.2 V9.2" stroke="#6f6f73" stroke-width="1.3" stroke-linecap="round" stroke-linejoin="round"/></svg>
<svg style="position:absolute;left:1338px;top:890.8px;" width="14" height="14" viewBox="0 0 14 14" fill="none"><path d="M3.8 9.9 L10 3.7 M4.3 3.6 H10.2 V9.6" stroke="#6f6f73" stroke-width="1.4" stroke-linecap="round" stroke-linejoin="round"/></svg>
<div class="t" style="left:309.40px;top:952.93px;font-size:12.6px;font-weight:400;color:#52525b;font-family:'Liberation Sans', sans-serif;">Show 10</div>
<svg style="position:absolute;left:363px;top:952px;" width="13" height="13" viewBox="0 0 13 13" fill="none"><path d="M3.2 4.2 L6.5 7.5 L9.8 4.2" stroke="#18181b" stroke-width="1.5" stroke-linecap="round" stroke-linejoin="round"/></svg>
<div class="t" style="right:169.40px;top:951.79px;font-size:13px;font-weight:400;color:#5b5b63;font-family:'Liberation Sans', sans-serif;">1 of 532</div>
<div style="position:absolute;left:1285px;top:944px;width:30px;height:30px;box-sizing:border-box;border:1px solid #e4e4e7;border-radius:6px;"></div>
<svg style="position:absolute;left:1293px;top:952px;" width="14" height="14" viewBox="0 0 14 14" fill="none"><path d="M8.6 3.6 L5.2 7 L8.6 10.4" stroke="#c4c4c8" stroke-width="1.3" stroke-linecap="round" stroke-linejoin="round"/></svg>
<div style="position:absolute;left:1323px;top:944px;width:30px;height:30px;box-sizing:border-box;border:1px solid #e4e4e7;border-radius:6px;background:#fff;"></div>
<svg style="position:absolute;left:1331px;top:952px;" width="14" height="14" viewBox="0 0 14 14" fill="none"><path d="M5.2 3.4 L8.8 7 L5.2 10.6" stroke="#09090b" stroke-width="1.7" stroke-linecap="round" stroke-linejoin="round"/></svg>
</body></html>
